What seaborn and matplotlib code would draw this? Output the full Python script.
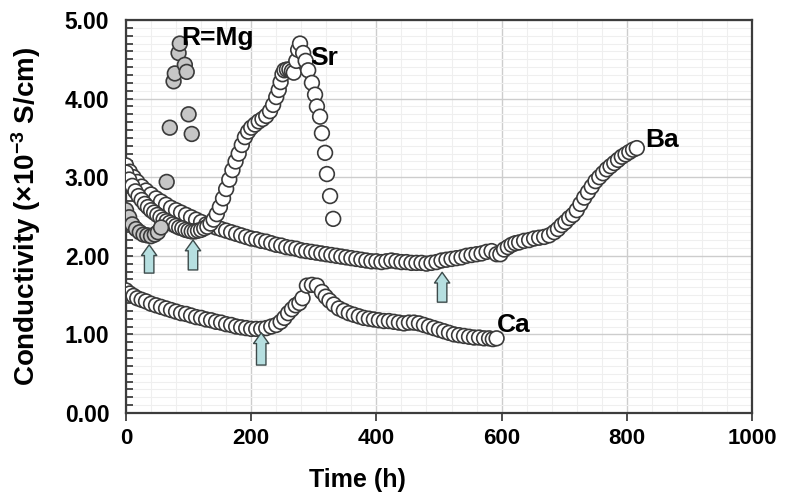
import matplotlib
matplotlib.use("Agg")
import matplotlib.pyplot as plt
from matplotlib.ticker import MultipleLocator, FormatStrFormatter
import seaborn as sns
import pandas as pd

# ---------------- data ----------------
mg_time = [0, 5, 10, 16, 22, 28, 34, 40, 46, 51, 56, 65, 70, 76, 78, 84, 86, 94, 97, 100, 105]
mg_cond = [2.58, 2.49, 2.40, 2.34, 2.30, 2.27, 2.26, 2.25, 2.27, 2.30, 2.36, 2.94, 3.63, 4.22,
           4.32, 4.58, 4.70, 4.43, 4.34, 3.80, 3.55]

sr_time = [0, 5, 10, 15, 20, 25, 30, 35, 40, 45, 50, 55, 60, 65, 70, 75, 80, 85, 90, 95, 100,
           105, 110, 115, 120, 125, 130, 135, 140, 145, 150, 155, 160, 165, 170, 175, 180, 185,
           190, 195, 200, 206, 212, 218, 224, 230, 235, 240, 244, 247, 250, 253, 257, 261, 265,
           268, 272, 275, 278, 283, 287, 291, 297, 302, 305, 310, 313, 318, 321, 326, 331]
sr_cond = [3.06, 2.97, 2.89, 2.82, 2.76, 2.71, 2.66, 2.62, 2.58, 2.55, 2.52, 2.49, 2.46, 2.44,
           2.42, 2.40, 2.38, 2.36, 2.35, 2.33, 2.32, 2.31, 2.31, 2.32, 2.33, 2.35, 2.37, 2.41,
           2.46, 2.53, 2.62, 2.73, 2.85, 2.97, 3.09, 3.20, 3.30, 3.41, 3.51, 3.58, 3.63, 3.67,
           3.71, 3.74, 3.78, 3.84, 3.92, 4.02, 4.11, 4.21, 4.31, 4.36, 4.37, 4.37, 4.35, 4.33,
           4.48, 4.62, 4.70, 4.58, 4.48, 4.36, 4.20, 4.05, 3.90, 3.77, 3.56, 3.31, 3.04, 2.76, 2.47]

ba_time = [0, 6, 12, 18, 25, 32, 40, 48, 56, 64, 72, 80, 88, 96, 104, 112, 120, 128, 136, 144,
           152, 160, 168, 176, 184, 192, 200, 208, 216, 224, 232, 240, 248, 256, 264, 272, 280,
           288, 296, 304, 312, 320, 328, 336, 344, 352, 360, 368, 376, 384, 392, 400, 408, 416,
           424, 432, 440, 448, 456, 464, 472, 480, 488, 496, 504, 512, 520, 528, 536, 544, 552,
           560, 568, 576, 584, 592, 598, 604, 610, 616, 622, 628, 636, 644, 652, 660, 668, 676,
           684, 690, 696, 702, 708, 714, 720, 726, 732, 738, 744, 750, 756, 762, 768, 774, 780,
           786, 792, 798, 804, 810, 816]
ba_cond = [3.15, 3.07, 3.00, 2.94, 2.88, 2.83, 2.78, 2.73, 2.69, 2.65, 2.61, 2.58, 2.55, 2.52,
           2.49, 2.46, 2.43, 2.40, 2.38, 2.36, 2.34, 2.32, 2.30, 2.28, 2.26, 2.24, 2.22, 2.21,
           2.19, 2.18, 2.16, 2.14, 2.13, 2.11, 2.10, 2.09, 2.07, 2.06, 2.05, 2.04, 2.03, 2.02,
           2.01, 2.00, 1.99, 1.98, 1.97, 1.96, 1.95, 1.94, 1.93, 1.93, 1.92, 1.93, 1.94, 1.93,
           1.92, 1.92, 1.91, 1.91, 1.91, 1.90, 1.91, 1.92, 1.94, 1.95, 1.96, 1.97, 1.98, 2.00,
           2.01, 2.02, 2.03, 2.05, 2.06, 2.02, 2.02, 2.08, 2.11, 2.14, 2.16, 2.17, 2.19, 2.20,
           2.22, 2.23, 2.24, 2.26, 2.30, 2.34, 2.39, 2.43, 2.48, 2.52, 2.58, 2.66, 2.74, 2.81,
           2.88, 2.95, 3.00, 3.05, 3.10, 3.14, 3.18, 3.22, 3.26, 3.29, 3.32, 3.35, 3.37]

ca_time = [0, 6, 12, 18, 25, 32, 40, 48, 56, 64, 72, 80, 88, 96, 104, 112, 120, 128, 136, 144,
           152, 160, 168, 176, 184, 192, 200, 208, 216, 224, 232, 240, 247, 253, 259, 265, 271,
           277, 282, 289, 297, 305, 313, 319, 325, 332, 340, 348, 356, 364, 372, 380, 388, 396,
           404, 412, 420, 428, 436, 444, 452, 460, 468, 476, 484, 492, 500, 508, 516, 524, 532,
           540, 548, 556, 564, 572, 580, 586, 592]
ca_cond = [1.56, 1.52, 1.49, 1.46, 1.44, 1.42, 1.39, 1.37, 1.35, 1.33, 1.31, 1.29, 1.27, 1.26,
           1.24, 1.22, 1.21, 1.19, 1.18, 1.16, 1.15, 1.13, 1.12, 1.10, 1.09, 1.08, 1.07, 1.07,
           1.07, 1.08, 1.10, 1.12, 1.16, 1.21, 1.27, 1.32, 1.37, 1.40, 1.46, 1.62, 1.63, 1.62,
           1.54, 1.48, 1.43, 1.38, 1.33, 1.30, 1.27, 1.25, 1.23, 1.21, 1.20, 1.19, 1.18, 1.17,
           1.17, 1.16, 1.15, 1.14, 1.15, 1.15, 1.14, 1.12, 1.10, 1.08, 1.06, 1.04, 1.02, 1.00,
           0.99, 0.98, 0.97, 0.96, 0.96, 0.95, 0.95, 0.94, 0.95]

series_names = ["Ca", "Ba", "Sr", "Mg"]
series_labels = ["Ca", "Ba", "Sr", "R=Mg"]
label_x = [593, 829, 294, 89]
label_y = [1.03, 3.38, 4.43, 4.68]

arrow_x = [37, 107, 216, 505]
arrow_tip = [2.14, 2.20, 1.02, 1.79]
arrow_tail = [1.78, 1.82, 0.61, 1.41]

x_ticks = [0, 200, 400, 600, 800, 1000]
y_ticks = [0.0, 1.0, 2.0, 3.0, 4.0, 5.0]

# ---------------- build table ----------------
frames = []
for name, t, c in [("Ca", ca_time, ca_cond), ("Ba", ba_time, ba_cond),
                   ("Sr", sr_time, sr_cond), ("Mg", mg_time, mg_cond)]:
    frames.append(pd.DataFrame({"time": t, "cond": c, "series": name}))
df = pd.concat(frames, ignore_index=True)

# ---------------- style ----------------
sns.set_theme(style="white")
plt.rcParams["font.family"] = ["Liberation Sans", "DejaVu Sans"]
plt.rcParams["font.weight"] = "bold"
plt.rcParams["text.color"] = "black"
plt.rcParams["axes.labelcolor"] = "black"
plt.rcParams["xtick.color"] = "black"
plt.rcParams["ytick.color"] = "black"
plt.rcParams["mathtext.fontset"] = "custom"
plt.rcParams["mathtext.rm"] = "Liberation Sans:bold"
plt.rcParams["mathtext.bf"] = "Liberation Sans:bold"
plt.rcParams["mathtext.it"] = "Liberation Sans:bold"

fig = plt.figure(figsize=(7.85, 5.0), dpi=100)
ax = fig.add_axes([126 / 785, 87 / 500, 626 / 785, 393 / 500])

palette = {"Mg": "#c6c6c6", "Sr": "#ffffff", "Ba": "#ffffff", "Ca": "#ffffff"}
sns.scatterplot(data=df, x="time", y="cond", hue="series", palette=palette,
                s=112, edgecolor="#3a3a3a", linewidth=1.2, legend=False, ax=ax, zorder=3)

ax.set_xlim(0, 1000)
ax.set_ylim(0, 5)
ax.set_xticks(x_ticks)
ax.set_yticks(y_ticks)
ax.xaxis.set_minor_locator(MultipleLocator(40))
ax.yaxis.set_minor_locator(MultipleLocator(0.1))
ax.yaxis.set_major_formatter(FormatStrFormatter("%.2f"))

ax.grid(which="major", color="#cdcdcd", linewidth=1.0, zorder=0)
ax.grid(which="minor", color="#efefef", linewidth=0.8, zorder=0)
ax.set_axisbelow(True)

ax.tick_params(axis="y", which="both", direction="in", length=5, width=1.3,
               color="#404040", labelcolor="black", left=True, right=False, pad=12,
               labelsize=16.5)
ax.tick_params(axis="x", which="major", direction="out", length=6, width=1.3,
               color="#404040", labelcolor="black", bottom=True, top=False, pad=5,
               labelsize=16)
ax.tick_params(axis="x", which="minor", length=0)
for lab in ax.get_xticklabels() + ax.get_yticklabels():
    lab.set_fontweight("bold")

for sp in ax.spines.values():
    sp.set_visible(True)
    sp.set_color("#3c3c3c")
    sp.set_linewidth(1.6)

ax.set_xlabel("Time (h)", fontsize=18, fontweight="bold", color="black")
ax.set_ylabel("Conductivity (×10$^{-3}$ S/cm)", fontsize=20, fontweight="bold", color="black")
ax.xaxis.set_label_coords(0.369, -0.14)
ax.yaxis.set_label_coords(-0.133, 0.5)

for lab, lx, ly in zip(series_labels, label_x, label_y):
    ax.text(lx, ly, lab, fontsize=19, fontweight="bold", ha="left", va="baseline",
            zorder=5, color="black")

for xa, yt, yb in zip(arrow_x, arrow_tip, arrow_tail):
    ax.annotate("", xy=(xa, yt), xytext=(xa, yb),
                arrowprops=dict(arrowstyle="simple,head_length=0.7,head_width=1.0,tail_width=0.62",
                                mutation_scale=11, fc="#b6dfe0", ec="#3d4b4b", lw=1.0,
                                shrinkA=0, shrinkB=0),
                zorder=6)

fig.savefig("out.png", dpi=100)
